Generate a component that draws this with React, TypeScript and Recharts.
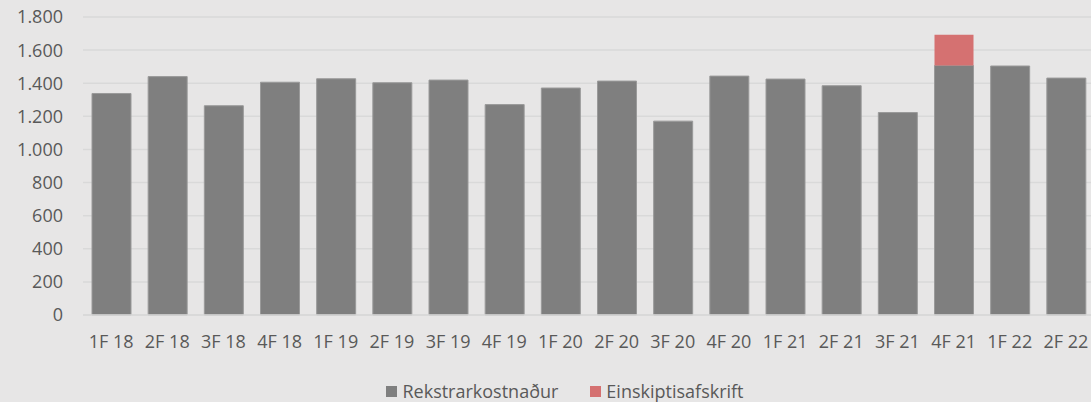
import React from "react";
import { BarChart, Bar, XAxis, YAxis, CartesianGrid } from "recharts";

const categories = [
  "1F 18", "2F 18", "3F 18", "4F 18",
  "1F 19", "2F 19", "3F 19", "4F 19",
  "1F 20", "2F 20", "3F 20", "4F 20",
  "1F 21", "2F 21", "3F 21", "4F 21",
  "1F 22", "2F 22",
];

const rekstrarkostnadur = [
  1338, 1440, 1264, 1406,
  1427, 1403, 1419, 1271,
  1371, 1413, 1171, 1443,
  1425, 1385, 1223, 1507,
  1504, 1431,
];

const einskiptisafskrift: (number | null)[] = [
  null, null, null, null,
  null, null, null, null,
  null, null, null, null,
  null, null, null, 186,
  null, null,
];

const yTicks = [0, 200, 400, 600, 800, 1000, 1200, 1400, 1600, 1800];

const series = [
  { key: "rekstrar", name: "Rekstrarkostnaður", color: "#7f7f7f" },
  { key: "einskipti", name: "Einskiptisafskrift", color: "#d57171" },
];

const data = categories.map((c, i) => ({
  cat: c,
  rekstrar: rekstrarkostnadur[i],
  einskipti: einskiptisafskrift[i],
}));

const fmt = (v: number) => String(v).replace(/\B(?=(\d{3})+(?!\d))/g, ".");

const font = "'Open Sans', sans-serif";
const tickStyle = { fill: "#595959", fontSize: 18, fontFamily: font };

export default function App() {
  return (
    <div
      style={{
        position: "fixed",
        top: 0,
        left: 0,
        width: 1091,
        height: 402,
        overflow: "hidden",
        background: "#e7e6e6",
      }}
    >
      <BarChart
        width={1100}
        height={402}
        data={data}
        margin={{ top: 17, right: 6, left: 0, bottom: 0 }}
        barSize={39}
      >
        <CartesianGrid vertical={false} stroke="#d9d9d9" strokeWidth={1.5} />
        <XAxis
          dataKey="cat"
          height={87}
          tickLine={false}
          axisLine={{ stroke: "#d9d9d9", strokeWidth: 1.5 }}
          tickMargin={14}
          tick={tickStyle}
          interval={0}
        />
        <YAxis
          width={83}
          domain={[0, 1800]}
          ticks={yTicks}
          tickFormatter={fmt}
          axisLine={false}
          tickLine={false}
          tickMargin={14}
          tick={tickStyle}
        />
        <Bar
          dataKey="rekstrar"
          name={series[0].name}
          stackId="a"
          fill={series[0].color}
          stroke="#9a9a9a"
          strokeWidth={1}
          isAnimationActive={false}
        />
        <Bar
          dataKey="einskipti"
          name={series[1].name}
          stackId="a"
          fill={series[1].color}
          isAnimationActive={false}
        />
      </BarChart>
      <div
        style={{
          position: "absolute",
          top: 379,
          left: 0,
          width: 1130,
          display: "flex",
          justifyContent: "center",
          fontFamily: font,
          fontSize: 18,
          color: "#595959",
        }}
      >
        {series.map((s, i) => (
          <div
            key={s.key}
            style={{ display: "flex", alignItems: "center", marginLeft: i ? 32 : 0 }}
          >
            <span
              style={{ width: 11, height: 11, background: s.color, marginRight: 5, display: "inline-block" }}
            />
            <span>{s.name}</span>
          </div>
        ))}
      </div>
    </div>
  );
}
